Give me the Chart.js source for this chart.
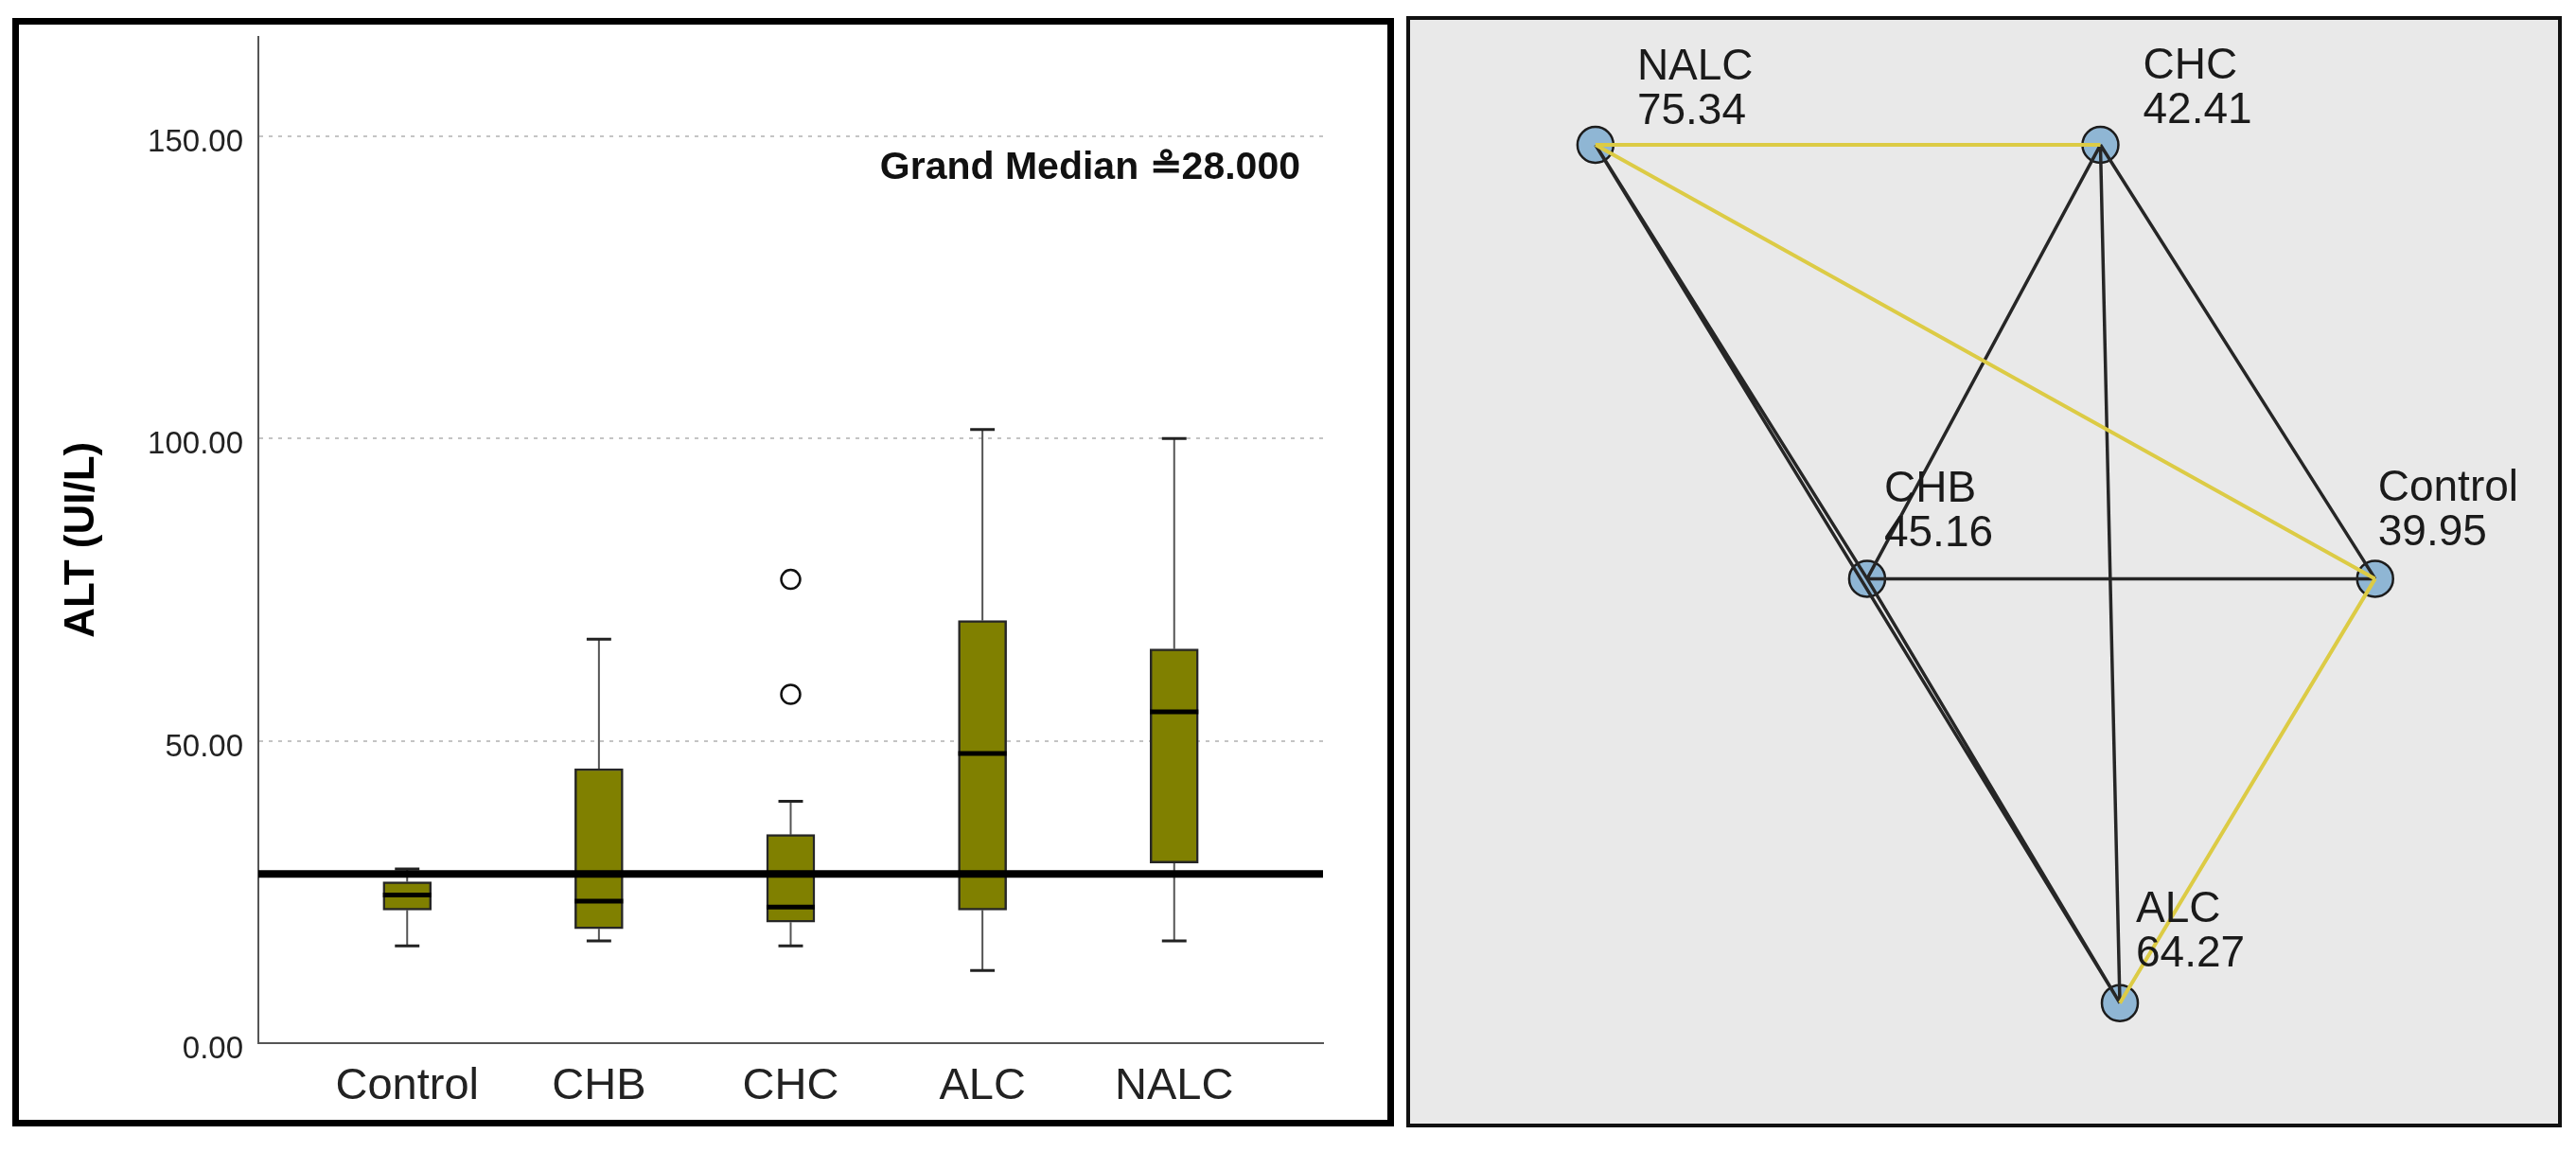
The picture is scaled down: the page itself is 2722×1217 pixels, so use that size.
<!DOCTYPE html>
<html>
<head>
<meta charset="utf-8">
<script src="https://cdn.jsdelivr.net/npm/chart.js@4.4.1/dist/chart.umd.min.js"></script>
<style>
  html, body { margin: 0; padding: 0; background: #fff; }
  body { width: 2722px; height: 1217px; position: relative; overflow: hidden; }
  #left { position: absolute; left: 13px; top: 19px; width: 1460px; height: 1171px; border: 7px solid #000; box-sizing: border-box; background: #fff; }
  #right { position: absolute; left: 1486px; top: 17px; width: 1221px; height: 1174px; border: 4px solid #111; box-sizing: border-box; background: #e9e9e9; }
  canvas { display: block; }
</style>
</head>
<body>
<div id="left"><canvas id="box" width="1446" height="1157"></canvas></div>
<div id="right"><canvas id="net" width="1213" height="1166"></canvas></div>
<script>
// ALT (U/L) per group
const groups = ['Control', 'CHB', 'CHC', 'ALC', 'NALC'];
const whiskerLow = [16.1, 16.9, 16.1, 12.0, 16.9];
const q1 = [22.0, 18.9, 20.0, 22.0, 29.8];
const medians = [24.5, 23.5, 22.5, 47.9, 54.8];
const q3 = [26.7, 45.4, 34.5, 69.9, 65.2];
const whiskerHigh = [28.8, 66.8, 40.0, 101.5, 100.0];
const outlierGroup = [2, 2];
const outlierValue = [76.7, 57.7];
const grandMedian = 28;
const yTicks = [0, 50, 100, 150];

// pairwise comparisons: mean rank per group and where each node sits
const meanRanks = [39.95, 45.16, 42.41, 64.27, 75.34];
const nodeX = [1.544, 0.538, 1, 1.0385, 0];
const nodeY = [1, 1, 2, 0.022, 2];
const edgeFrom = ['NALC', 'NALC', 'NALC', 'NALC', 'CHC', 'CHC', 'CHC', 'CHB', 'CHB', 'Control'];
const edgeTo = ['CHC', 'CHB', 'Control', 'ALC', 'CHB', 'Control', 'ALC', 'Control', 'ALC', 'ALC'];
const edgeSig = [true, false, true, false, false, false, false, false, false, true];

Chart.defaults.font.family = '"Liberation Sans", Arial, sans-serif';
Chart.defaults.color = '#222';

const X_MIN = -0.776, X_MAX = 4.776;
const BOX_HALF = 0.126, CAP_HALF = 0.064;
const gap = i => ({x: i, y: null});

const boxData = groups.map((g, i) => ({x: i, y: [q1[i], q3[i]]}));
const whiskerData = [];
const capData = [];
const medianData = [];
groups.forEach((g, i) => {
  whiskerData.push({x: i, y: q3[i]}, {x: i, y: whiskerHigh[i]}, gap(i),
                   {x: i, y: q1[i]}, {x: i, y: whiskerLow[i]}, gap(i));
  capData.push({x: i - CAP_HALF, y: whiskerHigh[i]}, {x: i + CAP_HALF, y: whiskerHigh[i]}, gap(i),
               {x: i - CAP_HALF, y: whiskerLow[i]}, {x: i + CAP_HALF, y: whiskerLow[i]}, gap(i));
  medianData.push({x: i - BOX_HALF, y: medians[i]}, {x: i + BOX_HALF, y: medians[i]}, gap(i));
});
const outlierData = outlierGroup.map((g, k) => ({x: g, y: outlierValue[k]}));

// text in the top right corner of the plot
const grandMedianLabel = {
  id: 'grandMedianLabel',
  afterDatasetsDraw(chart) {
    const {ctx, chartArea} = chart;
    ctx.save();
    ctx.font = 'bold 41px "Liberation Sans", Arial, sans-serif';
    ctx.fillStyle = '#111';
    ctx.textAlign = 'right';
    ctx.textBaseline = 'alphabetic';
    ctx.fillText('Grand Median \u2257' + grandMedian.toFixed(3), chartArea.right - 24, chartArea.top + 150);
    ctx.restore();
  }
};

new Chart(document.getElementById('box'), {
  type: 'bar',
  data: {
    datasets: [
      {
        type: 'line',
        data: [{x: X_MIN, y: grandMedian}, {x: X_MAX, y: grandMedian}],
        borderColor: '#000',
        borderWidth: 8,
        pointRadius: 0,
        order: 0
      },
      {
        type: 'line',
        data: medianData,
        borderColor: '#000',
        borderWidth: 5,
        pointRadius: 0,
        spanGaps: false,
        order: 1
      },
      {
        type: 'bar',
        data: boxData,
        backgroundColor: '#808000',
        borderColor: '#262626',
        borderWidth: 2.5,
        borderSkipped: false,
        barThickness: 51,
        order: 2
      },
      {
        type: 'line',
        data: capData,
        borderColor: '#222',
        borderWidth: 3,
        pointRadius: 0,
        spanGaps: false,
        order: 3
      },
      {
        type: 'line',
        data: whiskerData,
        borderColor: '#555',
        borderWidth: 2,
        pointRadius: 0,
        spanGaps: false,
        order: 4
      },
      {
        type: 'scatter',
        data: outlierData,
        pointRadius: 10,
        pointBorderWidth: 2.5,
        pointBackgroundColor: '#fff',
        pointBorderColor: '#111',
        order: 0
      }
    ]
  },
  options: {
    responsive: false,
    animation: false,
    events: [],
    layout: { padding: { top: 4, right: 68, left: 0, bottom: 0 } },
    plugins: { legend: { display: false }, tooltip: { enabled: false } },
    scales: {
      x: {
        type: 'linear',
        min: X_MIN,
        max: X_MAX,
        offset: false,
        afterFit: s => { s.height = 81; s.paddingLeft = 0; s.paddingRight = 0; },
        afterBuildTicks: s => { s.ticks = groups.map((g, i) => ({value: i})); },
        grid: { display: true, drawOnChartArea: false, drawTicks: false, color: 'transparent' },
        border: { display: true, color: '#555', width: 2 },
        ticks: {
          padding: 18,
          color: '#222',
          font: { size: 47 },
          callback: v => groups[v]
        }
      },
      y: {
        min: 0,
        max: 166.5,
        afterFit: s => { s.width = 253; s.paddingTop = 0; s.paddingBottom = 0; },
        afterBuildTicks: s => { s.ticks = yTicks.map(v => ({value: v})); },
        grid: {
          drawTicks: false,
          lineWidth: 2,
          color: c => c.tick && c.tick.value === 0 ? 'transparent' : '#c4c4c4'
        },
        border: { display: true, color: '#555', width: 2, dash: [4, 6] },
        ticks: {
          padding: 16,
          labelOffset: 7,
          color: '#222',
          font: { size: 33 },
          callback: v => Number(v).toFixed(2)
        },
        title: {
          display: true,
          text: 'ALT (UI/L)',
          color: '#000',
          font: { size: 44, weight: 'bold' },
          padding: { top: 40, bottom: 0 }
        }
      }
    }
  },
  plugins: [grandMedianLabel]
});

// ---- pairwise comparison graph ----
const edgeData = sig => {
  const pts = [];
  edgeFrom.forEach((a, k) => {
    if (edgeSig[k] !== sig) return;
    const i = groups.indexOf(a), j = groups.indexOf(edgeTo[k]);
    pts.push({x: nodeX[i], y: nodeY[i]}, {x: nodeX[j], y: nodeY[j]}, {x: nodeX[j], y: null});
  });
  return pts;
};

const nodeLabels = {
  id: 'nodeLabels',
  afterDatasetsDraw(chart, args, opts) {
    const {ctx, scales: {x, y}} = chart;
    ctx.save();
    ctx.font = '46px "Liberation Sans", Arial, sans-serif';
    ctx.fillStyle = '#1a1a1a';
    ctx.textAlign = 'left';
    ctx.textBaseline = 'alphabetic';
    groups.forEach((g, i) => {
      const [dx, dy] = opts.offsets[g];
      const px = x.getPixelForValue(nodeX[i]) + dx;
      const py = y.getPixelForValue(nodeY[i]) + dy;
      ctx.fillText(g, px, py - 47);
      ctx.fillText(meanRanks[i].toFixed(2), px, py);
    });
    ctx.restore();
  }
};

new Chart(document.getElementById('net'), {
  type: 'scatter',
  data: {
    datasets: [
      {
        data: groups.map((g, i) => ({x: nodeX[i], y: nodeY[i]})),
        pointRadius: 19,
        pointBackgroundColor: '#8fb6d4',
        pointBorderColor: '#1c1c1c',
        pointBorderWidth: 2.5,
        clip: false,
        order: 3
      },
      {
        data: edgeData(true),
        showLine: true,
        spanGaps: false,
        borderColor: '#dccb45',
        borderWidth: 4,
        pointRadius: 0,
        order: 1
      },
      {
        data: edgeData(false),
        showLine: true,
        spanGaps: false,
        borderColor: '#262626',
        borderWidth: 3.5,
        pointRadius: 0,
        order: 2
      }
    ]
  },
  options: {
    responsive: false,
    animation: false,
    events: [],
    layout: { padding: 0 },
    plugins: {
      legend: { display: false },
      tooltip: { enabled: false },
      nodeLabels: {
        offsets: {
          Control: [3, -35],
          CHB: [18, -34],
          CHC: [45, -23],
          ALC: [17, -39],
          NALC: [44, -22]
        }
      }
    },
    scales: {
      x: { type: 'linear', display: false, min: -0.3268, max: 1.8659 },
      y: { type: 'linear', display: false, min: -0.2089, max: 2.2412 }
    }
  },
  plugins: [nodeLabels]
});
</script>
</body>
</html>
